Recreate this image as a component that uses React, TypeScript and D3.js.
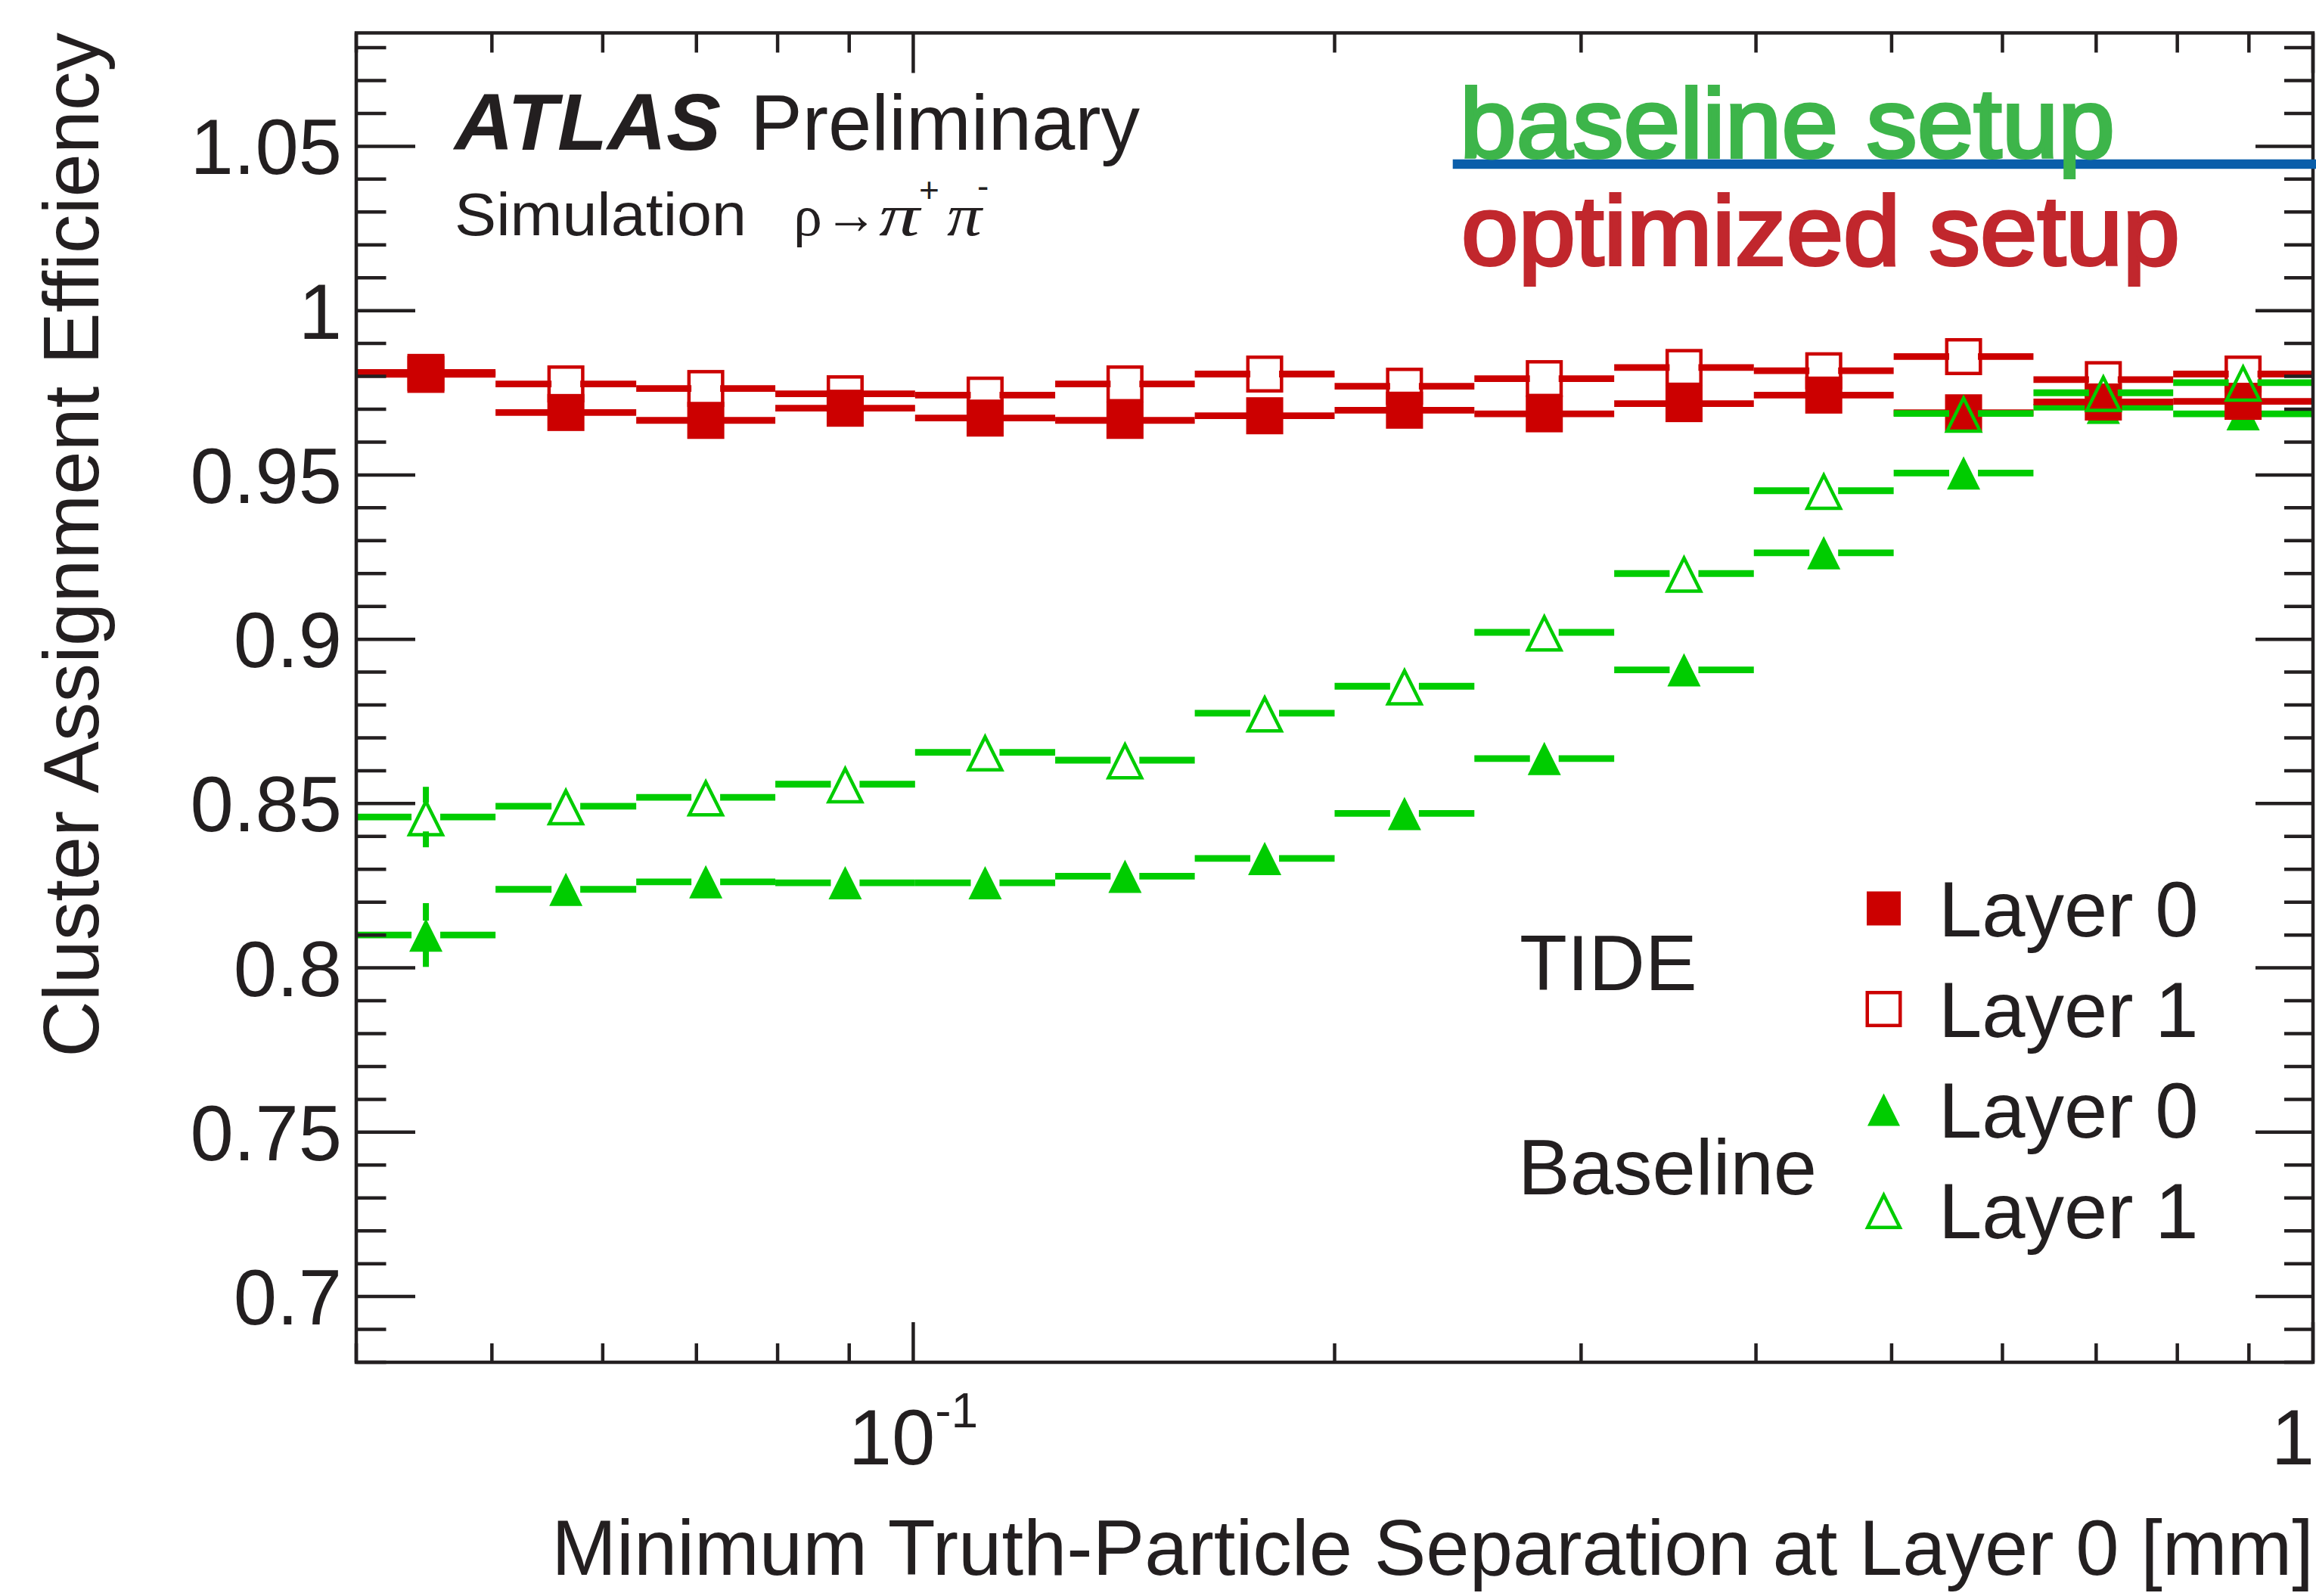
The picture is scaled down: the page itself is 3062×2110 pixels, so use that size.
import React from "react";
import * as d3 from "d3";

// bin edges (log-spaced) of the separation histogram, in mm
const binEdges = [0.04, 0.0503, 0.0634, 0.0797, 0.1003, 0.1263, 0.1589, 0.2, 0.2517, 0.3168, 0.3986, 0.5017, 0.6314, 0.7946, 1.0];

// efficiencies
const tideLayer0 = [0.9806, 0.969, 0.9666, 0.9703, 0.9673, 0.9666, 0.968, 0.9697, 0.9686, 0.9717, 0.9743, 0.9689, 0.9722, 0.9724];
const tideLayer0Err = [0.003, 0.002, 0.002, 0.002, 0.002, 0.002, 0.002, 0.002, 0.002, 0.002, 0.002, 0.002, 0.002, 0.002];
const tideLayer1 = [0.9812, 0.9777, 0.9763, 0.9747, 0.9743, 0.9777, 0.9807, 0.977, 0.9793, 0.9827, 0.9817, 0.986, 0.979, 0.9807];
const tideLayer1Err = [0.003, 0.002, 0.002, 0.002, 0.002, 0.002, 0.002, 0.002, 0.002, 0.002, 0.002, 0.002, 0.002, 0.002];
const baseLayer0 = [0.81, 0.8239, 0.8262, 0.8259, 0.8259, 0.8279, 0.8333, 0.847, 0.8637, 0.8907, 0.9263, 0.9506, 0.9706, 0.9686];
const baseLayer0Err = [0.0097, 0.0035, 0.003, 0.003, 0.003, 0.003, 0.003, 0.003, 0.003, 0.003, 0.0025, 0.002, 0.002, 0.002];
const baseLayer1 = [0.8459, 0.8492, 0.8519, 0.8559, 0.8656, 0.8632, 0.8775, 0.8857, 0.9021, 0.92, 0.9452, 0.9687, 0.975, 0.9781];
const baseLayer1Err = [0.0092, 0.0035, 0.003, 0.003, 0.003, 0.003, 0.003, 0.003, 0.003, 0.003, 0.0025, 0.002, 0.002, 0.002];

const yMajorTicks = [0.7, 0.75, 0.8, 0.85, 0.9, 0.95, 1, 1.05];
const yTickLabels = ["0.7", "0.75", "0.8", "0.85", "0.9", "0.95", "1", "1.05"];

const legendLabels = ["Layer 0", "Layer 1", "Layer 0", "Layer 1"];
const legendGroups = ["TIDE", "Baseline"];

const W = 3062;
const H = 2110;
const frame = { left: 471, right: 3058, top: 43.5, bottom: 1801 };

const RED = "#cc0000";
const GREEN = "#00cc00";
const INK = "#231f20";
const FONT = "'Liberation Sans', Arial, Helvetica, sans-serif";
const SERIF = "'Liberation Serif', 'Times New Roman', serif";

const x = d3.scaleLog().domain([0.04, 1]).range([frame.left, frame.right]);
const y = d3.scaleLinear().domain([0.68, 1.0845]).range([frame.bottom, frame.top]);

type MarkerKind = "filledSquare" | "openSquare" | "filledTriangle" | "openTriangle";

const series: { key: string; values: number[]; errors: number[]; color: string; marker: MarkerKind; size: number }[] = [
  { key: "tideL1", values: tideLayer1, errors: tideLayer1Err, color: RED, marker: "openSquare", size: 49 },
  { key: "baseL0", values: baseLayer0, errors: baseLayer0Err, color: GREEN, marker: "filledTriangle", size: 44 },
  { key: "tideL0", values: tideLayer0, errors: tideLayer0Err, color: RED, marker: "filledSquare", size: 49 },
  { key: "baseL1", values: baseLayer1, errors: baseLayer1Err, color: GREEN, marker: "openTriangle", size: 51 },
];

const legendMarkers: { kind: MarkerKind; color: string; size: number }[] = [
  { kind: "filledSquare", color: RED, size: 45 },
  { kind: "openSquare", color: RED, size: 48 },
  { kind: "filledTriangle", color: GREEN, size: 43 },
  { kind: "openTriangle", color: GREEN, size: 50 },
];

const GAP = 19; // error bar gap around marker
const BAR_W = 8.8;
const MARK_SW = 4.5;

function Marker({ kind, cx, cy, color, size }: { kind: MarkerKind; cx: number; cy: number; color: string; size: number }) {
  const h = size / 2;
  if (kind === "filledSquare") {
    return <rect x={cx - h} y={cy - h} width={size} height={size} fill={color} />;
  }
  if (kind === "openSquare") {
    const s = size - MARK_SW;
    return <rect x={cx - s / 2} y={cy - s / 2} width={s} height={s} fill="none" stroke={color} strokeWidth={MARK_SW} />;
  }
  if (kind === "filledTriangle") {
    return <path d={`M${cx},${cy - h} L${cx + h},${cy + h} L${cx - h},${cy + h} Z`} fill={color} />;
  }
  const top = cy - h + MARK_SW * 1.12;
  const bot = cy + h - MARK_SW / 2;
  const hb = h - MARK_SW * 0.81;
  return (
    <path d={`M${cx},${top} L${cx + hb},${bot} L${cx - hb},${bot} Z`} fill="none" stroke={color} strokeWidth={MARK_SW} strokeLinejoin="miter" />
  );
}

function Series({ s }: { s: (typeof series)[number] }) {
  return (
    <g>
      {s.values.map((v, i) => {
        const lo = binEdges[i];
        const hi = binEdges[i + 1];
        const cx = x(Math.sqrt(lo * hi));
        const cy = y(v);
        const yUp = y(v + s.errors[i]);
        const yDn = y(v - s.errors[i]);
        return (
          <g key={i}>
            <line x1={x(lo)} x2={cx - GAP} y1={cy} y2={cy} stroke={s.color} strokeWidth={BAR_W} />
            <line x1={cx + GAP} x2={x(hi)} y1={cy} y2={cy} stroke={s.color} strokeWidth={BAR_W} />
            {cy - yUp > GAP && <line x1={cx} x2={cx} y1={yUp} y2={cy - GAP} stroke={s.color} strokeWidth={8} />}
            {yDn - cy > GAP && <line x1={cx} x2={cx} y1={cy + GAP} y2={yDn} stroke={s.color} strokeWidth={8} />}
            <Marker kind={s.marker} cx={cx} cy={cy} color={s.color} size={s.size} />
          </g>
        );
      })}
    </g>
  );
}

export default function App() {
  const yTicks = y.ticks(40);
  const xTicks = x.ticks();
  const isMajorY = (t: number) => Math.abs(t * 20 - Math.round(t * 20)) < 1e-6;
  const isMajorX = (t: number) => Math.abs(Math.log10(t) - Math.round(Math.log10(t))) < 1e-9;
  const legendY = [1201, 1334, 1467, 1600];

  return (
    <div style={{ position: "absolute", left: 0, top: 0 }}>
      <svg width={W} height={H} style={{ display: "block", background: "#fff" }} fontFamily={FONT}>
        <rect width={W} height={H} fill="#fff" />

        {/* data */}
        {series.map((s) => (
          <Series key={s.key} s={s} />
        ))}

        {/* y ticks, both sides */}
        {yTicks.map((t) => {
          const major = isMajorY(t);
          const yy = y(t);
          return (
            <g key={`y${t}`} stroke={INK} strokeWidth={4.5}>
              <line x1={frame.left} x2={frame.left + (major ? 78 : 39.5)} y1={yy} y2={yy} />
              <line x1={frame.right} x2={frame.right - (major ? 76 : 38)} y1={yy} y2={yy} />
            </g>
          );
        })}
        {/* x ticks, both sides */}
        {xTicks.map((t) => {
          const major = isMajorX(t);
          const xx = x(t);
          return (
            <g key={`x${t}`} stroke={INK} strokeWidth={4.5}>
              <line x1={xx} x2={xx} y1={frame.bottom} y2={frame.bottom - (major ? 53 : 25)} />
              <line x1={xx} x2={xx} y1={frame.top} y2={frame.top + (major ? 53 : 26)} />
            </g>
          );
        })}

        <rect
          x={frame.left}
          y={frame.top}
          width={frame.right - frame.left}
          height={frame.bottom - frame.top}
          fill="none"
          stroke={INK}
          strokeWidth={4.5}
        />

        {/* y tick labels */}
        {yMajorTicks.map((t, i) => (
          <text key={`yl${t}`} x={452} y={y(t) + 37} fontSize={103} textAnchor="end" fill={INK}>
            {yTickLabels[i]}
          </text>
        ))}

        {/* x tick labels */}
        <text x={x(0.1)} y={1936} fontSize={103} textAnchor="middle" fill={INK}>
          10
          <tspan fontSize={64} dy={-49}>
            -1
          </tspan>
        </text>
        <text x={W - 2} y={1936} fontSize={103} textAnchor="end" fill={INK}>
          1
        </text>

        {/* axis titles */}
        <text x={3059} y={2082} fontSize={103} textAnchor="end" fill={INK}>
          Minimum Truth-Particle Separation at Layer 0 [mm]
        </text>
        <text transform="translate(130,43) rotate(-90)" fontSize={103} textAnchor="end" fill={INK}>
          Cluster Assignment Efficiency
        </text>

        {/* ATLAS label */}
        <text x={601} y={198} fontSize={105} fontWeight="bold" fontStyle="italic" fill={INK} textLength={352} lengthAdjust="spacingAndGlyphs">
          ATLAS
        </text>
        <text x={992} y={198} fontSize={103} fill={INK}>
          Preliminary
        </text>
        <text x={601} y={311} fontSize={80} fill={INK} textLength={386} lengthAdjust="spacingAndGlyphs">
          Simulation
        </text>
        <g fill={INK} fontFamily={SERIF}>
          <text x={1049} y={311} fontSize={76}>
            ρ
          </text>
          <text x={1090} y={309} fontSize={76} textLength={70} lengthAdjust="spacingAndGlyphs">
            →
          </text>
          <text x={1162} y={311} fontSize={78} fontStyle="italic" textLength={54} lengthAdjust="spacingAndGlyphs">
            π
          </text>
          <text x={1215} y={267} fontSize={46} fontFamily={FONT}>
            +
          </text>
          <text x={1252} y={311} fontSize={78} fontStyle="italic" textLength={46} lengthAdjust="spacingAndGlyphs">
            π
          </text>
          <text x={1292} y={262} fontSize={46} fontFamily={FONT}>
            -
          </text>
        </g>

        {/* legend */}
        {legendMarkers.map((m, i) => (
          <g key={`lg${i}`}>
            <Marker kind={m.kind} cx={2490.5} cy={legendY[i]} color={m.color} size={m.size} />
            <text x={2563} y={legendY[i] + 37} fontSize={103} fill={INK}>
              {legendLabels[i]}
            </text>
          </g>
        ))}
        <text x={2009} y={1309} fontSize={103} fill={INK}>
          {legendGroups[0]}
        </text>
        <text x={2007} y={1579} fontSize={103} fill={INK}>
          {legendGroups[1]}
        </text>

        {/* overlay annotations */}
        <rect x={1920.7} y={210.7} width={W - 1920.7} height={12.5} fill="#0a5eaa" />
        <text
          x={1930}
          y={207.6}
          fontSize={130}
          fill="#3db54a"
          stroke="#3db54a"
          strokeWidth={4}
          textLength={866}
          lengthAdjust="spacingAndGlyphs"
        >
          baseline setup
        </text>
        <text
          x={1932}
          y={350.4}
          fontSize={130}
          fill="#c1272d"
          stroke="#c1272d"
          strokeWidth={4}
          textLength={950}
          lengthAdjust="spacingAndGlyphs"
        >
          optimized setup
        </text>
      </svg>
    </div>
  );
}
